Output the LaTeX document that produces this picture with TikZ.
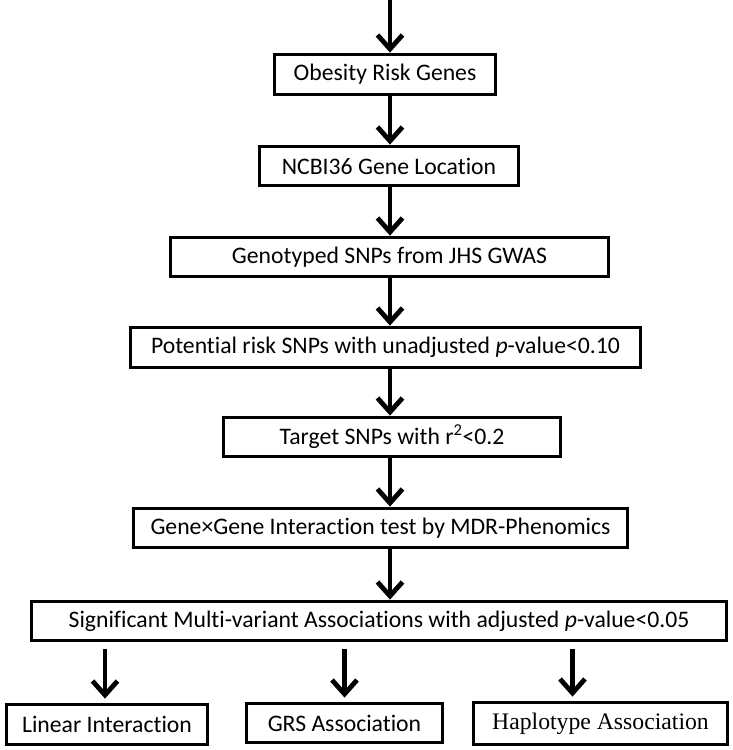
\documentclass[tikz,border=0pt]{standalone}
\usepackage{fontspec}
\setmainfont[Ligatures=NoCommon]{Carlito}
\newfontfamily\hapfont{Liberation Serif}
\usetikzlibrary{arrows.meta,calc}

\begin{document}
\begin{tikzpicture}[x=1pt, y=-1pt, >={Straight Barb[length=14pt,width=25pt]},
  stage/.style={draw, line width=3.8pt, inner sep=0pt, font=\fontsize{23.7}{28}\selectfont},
  flow/.style={->, line width=4.8pt}]
\useasboundingbox (0,0) rectangle (732,750);
\coordinate (top) at (390,0);
\node[stage, minimum width=221pt, minimum height=40pt] (genes) at (385,74.5) {Obesity Risk Genes};
\node[stage, minimum width=259pt, minimum height=39pt] (loc) at (389,166) {NCBI36 Gene Location};
\node[stage, minimum width=438pt, minimum height=39pt] (geno) at (389.5,257) {Genotyped SNPs from JHS GWAS};
\node[stage, minimum width=510pt, minimum height=40pt] (risk) at (385.5,347.5) {Potential risk SNPs with unadjusted \textit{p}-value<0.10};
\node[stage, minimum width=337pt, minimum height=39pt] (target) at (392,437) {Target SNPs with r\textsuperscript{2}<0.2};
\node[stage, minimum width=494pt, minimum height=39pt] (mdr) at (380.5,528) {Gene×Gene Interaction test by MDR-Phenomics};
\node[stage, minimum width=695pt, minimum height=39pt] (sig) at (379,621) {Significant Multi-variant Associations with adjusted \textit{p}-value<0.05};
\node[stage, minimum width=201pt, minimum height=40pt] (lin) at (107,724.5) {Linear Interaction};
\node[stage, minimum width=196pt, minimum height=39pt] (grs) at (344.5,723) {GRS Association};
\node[stage, minimum width=254pt, minimum height=42pt, font=\hapfont\fontsize{23.7}{28}\selectfont] (hap) at (600.5,723.5) {Haplotype Association};

\draw[flow] (top) -- (genes.north -| top);
\draw[flow] (genes.south -| top) -- (loc.north -| top);
\draw[flow] (loc.south -| top) -- (geno.north -| top);
\draw[flow] (geno.south -| top) -- (risk.north -| top);
\draw[flow] (risk.south -| top) -- (target.north -| top);
\draw[flow] (target.south -| top) -- (mdr.north -| top);
\draw[flow] (mdr.south -| top) -- (sig.north -| top);
\draw[flow, shorten <=7pt, shorten >=4pt] ($(sig.south -| lin.north)+(-2,0)$) -- ($(lin.north)+(-2,0)$);
\draw[flow, shorten <=7pt, shorten >=4pt] (sig.south -| grs.north) -- (grs.north);
\draw[flow, shorten <=7pt, shorten >=4pt] ($(sig.south -| hap.north)+(-28,0)$) -- ($(hap.north)+(-28,0)$);
\end{tikzpicture}
\end{document}
